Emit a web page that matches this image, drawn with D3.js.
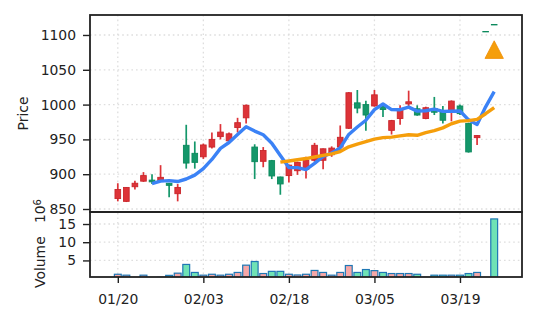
<!DOCTYPE html>
<html>
<head>
<meta charset="utf-8">
<script src="https://cdn.jsdelivr.net/npm/d3@7"></script>
<style>
  body { margin: 0; background: #fff; }
  text { font-family: "DejaVu Sans", sans-serif; fill: #222; }
</style>
</head>
<body>
<div id="chart"></div>
<script>
// trading days (MM/DD)
var dates = ["01/20","01/21","01/22","01/23","01/24","01/27","01/28","01/29","01/30","01/31",
             "02/03","02/04","02/05","02/06","02/07","02/10","02/11","02/12","02/13","02/14",
             "02/18","02/19","02/20","02/21","02/24","02/25","02/26","02/27","02/28","03/04",
             "03/05","03/06","03/07","03/10","03/11","03/12","03/13","03/14","03/17","03/18",
             "03/19","03/20","03/21","03/24","03/25"];

var opens  = [865, 861, 882, 890, 891.5, 890, 887, 872, 941.5, 930,
              925, 939, 954, 948, 967, 981, 939, 918.5, 919.5, 896,
              898, 905, 907, 920, 920, 928, 939, 966, 1002.5, 1000,
              998, 997, 963, 980, 1001, 994, 980, 994.5, 989, 990,
              998, 973, 952.5, 1105, 1115];
var highs  = [887, 881.5, 890.5, 903, 900, 913, 887.5, 886, 971, 947,
              944, 960, 972, 960, 981, 1000, 943, 939, 920.5, 896.5,
              914, 918, 925, 945, 937, 940, 970, 1018, 1021, 1005.5,
              1021, 998, 978, 999, 1020, 999, 997, 1011, 998, 1006,
              1000, 974, 956, 1105, 1115];
var lows   = [861, 860, 878, 889, 886, 889, 867, 861, 908, 908,
              922, 937, 950, 946, 960, 973, 893, 910, 893, 870.5,
              888, 899, 894, 918, 907, 925, 932, 965, 987.5, 962.5,
              997, 982, 957, 971, 994, 984, 979, 985, 973, 976,
              985, 931, 942, 1104.5, 1114.5];
var closes = [878, 881, 887, 898, 889, 895.5, 884, 881, 916, 917,
              942, 950, 960.5, 958, 974, 999, 918, 934, 897.5, 886,
              913, 917, 920, 941.5, 936.5, 937.5, 953, 1017, 995, 985,
              1014, 993, 977, 994, 1004, 985, 995.5, 989, 977.5, 1005,
              987, 932, 955.5, 1104.5, 1114.5];
// volume in millions
var volumes = [1.2, 0.95, 0.3, 0.95, 0.3, 0.35, 0.9, 1.5, 3.9, 1.7,
               0.95, 1.2, 0.95, 1.2, 1.7, 3.7, 4.7, 1.4, 2.0, 2.0,
               1.2, 1.0, 1.2, 2.25, 1.7, 0.95, 1.7, 3.6, 1.7, 2.5,
               2.2, 1.7, 1.4, 1.4, 1.4, 1.2, 0.35, 0.95, 0.95, 0.95,
               0.95, 1.4, 1.7, 0.3, 16.4];
// signal marker (index, price)
var signalIdx = [44];
var signalPrice = [1079];

var mavWindows = [5, 20];
var mavColors = ["#3b82f6", "#f59e0b"];
var priceTicks = [850, 900, 950, 1000, 1050, 1100];
var volTicks = [5, 10, 15];
var xTickIdx = [0, 10, 20, 30, 40];

var upColor = "#dd3338", upEdge = "#c9262b";
var downColor = "#14976a", downEdge = "#0c8a5d";
var volUp = "#f6a7a7", volDown = "#6fe2b5", volEdge = "#1f77b4";

var W = 537, H = 322;
var margin = {left: 90, right: 15, top: 15};
var mainBottom = 212, volBottom = 277;

var data = dates.map(function (d, i) {
    return {i: i, date: d, open: opens[i], high: highs[i], low: lows[i], close: closes[i], vol: volumes[i]};
});

var svg = d3.select("#chart").append("svg")
    .attr("width", W)
    .attr("height", H)
    .style("display", "block");

svg.append("rect").attr("width", W).attr("height", H).attr("fill", "#fff");

var x = d3.scaleLinear()
    .domain([-3.25, 47.25])
    .range([margin.left, W - margin.right]);

var y = d3.scaleLinear()
    .domain([845.7, 1128.7])
    .range([mainBottom, margin.top]);

var yv = d3.scaleLinear()
    .domain([0.45, 18.3])
    .range([volBottom, mainBottom]);

var step = x(1) - x(0);

var defs = svg.append("defs");
defs.append("clipPath").attr("id", "clipMain")
    .append("rect")
    .attr("x", x.range()[0]).attr("y", margin.top)
    .attr("width", x.range()[1] - x.range()[0]).attr("height", mainBottom - margin.top);
defs.append("clipPath").attr("id", "clipVol")
    .append("rect")
    .attr("x", x.range()[0]).attr("y", mainBottom)
    .attr("width", x.range()[1] - x.range()[0]).attr("height", volBottom - mainBottom);

// grids
var grid = svg.append("g")
    .attr("stroke", "#dedede")
    .attr("stroke-width", 1.3)
    .attr("stroke-dasharray", "1.6,3");

grid.selectAll(".hgrid")
    .data(priceTicks)
    .enter().append("line")
    .attr("x1", x.range()[0]).attr("x2", x.range()[1])
    .attr("y1", function (d) { return y(d); })
    .attr("y2", function (d) { return y(d); });

grid.selectAll(".vgrid")
    .data(volTicks)
    .enter().append("line")
    .attr("x1", x.range()[0]).attr("x2", x.range()[1])
    .attr("y1", function (d) { return yv(d); })
    .attr("y2", function (d) { return yv(d); });

grid.selectAll(".xgrid")
    .data(xTickIdx)
    .enter().append("line")
    .attr("x1", function (d) { return x(d); })
    .attr("x2", function (d) { return x(d); })
    .attr("y1", margin.top)
    .attr("y2", volBottom);

// volume bars
svg.append("g")
    .attr("clip-path", "url(#clipVol)")
    .selectAll("rect")
    .data(data)
    .enter().append("rect")
    .attr("x", function (d) { return x(d.i) - step * 0.4; })
    .attr("width", step * 0.8)
    .attr("y", function (d) { return yv(d.vol); })
    .attr("height", function (d) { return yv(0) - yv(d.vol); })
    .attr("fill", function (d) { return d.close >= d.open ? volUp : volDown; })
    .attr("stroke", volEdge)
    .attr("stroke-width", 1.2);

// candles
var candles = svg.append("g")
    .attr("clip-path", "url(#clipMain)")
    .selectAll("g")
    .data(data)
    .enter().append("g");

candles.append("line")
    .attr("x1", function (d) { return x(d.i); })
    .attr("x2", function (d) { return x(d.i); })
    .attr("y1", function (d) { return y(d.high); })
    .attr("y2", function (d) { return y(d.low); })
    .attr("stroke", function (d) { return d.close >= d.open ? upColor : downColor; })
    .attr("stroke-width", 1.7);

candles.append("rect")
    .attr("x", function (d) { return x(d.i) - step * 0.33; })
    .attr("width", step * 0.66)
    .attr("y", function (d) { return y(Math.max(d.open, d.close)); })
    .attr("height", function (d) { return Math.max(0.4, Math.abs(y(d.open) - y(d.close))); })
    .attr("fill", function (d) { return d.close >= d.open ? upColor : downColor; })
    .attr("stroke", function (d) { return d.close >= d.open ? upEdge : downEdge; })
    .attr("stroke-width", 0.9);

// moving averages of the close
mavWindows.forEach(function (w, k) {
    var pts = [];
    for (var i = w - 1; i < closes.length; i++) {
        pts.push([i, d3.mean(closes.slice(i - w + 1, i + 1))]);
    }
    svg.append("path")
        .datum(pts)
        .attr("fill", "none")
        .attr("stroke", mavColors[k])
        .attr("stroke-width", 3.4)
        .attr("stroke-linejoin", "round")
        .attr("d", d3.line()
            .x(function (d) { return x(d[0]); })
            .y(function (d) { return y(d[1]); }));
});

// signal markers
svg.append("g")
    .selectAll("path")
    .data(signalIdx)
    .enter().append("path")
    .attr("transform", function (d, i) { return "translate(" + x(d) + "," + y(signalPrice[i]) + ")"; })
    .attr("d", "M0,-8.8L9.2,8.8L-9.2,8.8Z")
    .attr("fill", "#f59e0b")
    .attr("stroke", "#f08c00")
    .attr("stroke-width", 0.8);

// axes
var yAxis = svg.append("g")
    .attr("transform", "translate(" + margin.left + ",0)")
    .call(d3.axisLeft(y).tickValues(priceTicks).tickFormat(d3.format("d")).tickSize(7).tickPadding(7));

var yvAxis = svg.append("g")
    .attr("transform", "translate(" + margin.left + ",0)")
    .call(d3.axisLeft(yv).tickValues(volTicks).tickFormat(d3.format("d")).tickSize(7).tickPadding(7));

var xAxis = svg.append("g")
    .attr("transform", "translate(0," + volBottom + ")")
    .call(d3.axisBottom(x).tickValues(xTickIdx)
        .tickFormat(function (d) { return dates[d]; })
        .tickSize(6).tickPadding(11));

[yAxis, yvAxis, xAxis].forEach(function (a) {
    a.select(".domain").remove();
    a.selectAll(".tick line").attr("stroke", "#222").attr("stroke-width", 1.4);
    a.selectAll(".tick text")
        .style("font-family", "DejaVu Sans")
        .style("font-size", "13.9px")
        .attr("fill", "#222");
});

// frames
svg.append("rect")
    .attr("x", x.range()[0]).attr("y", margin.top)
    .attr("width", x.range()[1] - x.range()[0])
    .attr("height", mainBottom - margin.top)
    .attr("fill", "none")
    .attr("stroke", "#222")
    .attr("stroke-width", 1.8);

svg.append("rect")
    .attr("x", x.range()[0]).attr("y", mainBottom)
    .attr("width", x.range()[1] - x.range()[0])
    .attr("height", volBottom - mainBottom)
    .attr("fill", "none")
    .attr("stroke", "#222")
    .attr("stroke-width", 1.8);

// axis titles
svg.append("text")
    .attr("transform", "translate(28," + ((margin.top + mainBottom) / 2) + ") rotate(-90)")
    .attr("text-anchor", "middle")
    .style("font-size", "13.9px")
    .text("Price");

var vlab = svg.append("text")
    .attr("transform", "translate(45," + ((mainBottom + volBottom) / 2 - 1) + ") rotate(-90)")
    .attr("text-anchor", "middle")
    .style("font-size", "13.9px");
vlab.append("tspan").text("Volume\u00a0\u00a0\u00a010");
vlab.append("tspan")
    .attr("dy", "-0.45em")
    .style("font-size", "10px")
    .text("6");
</script>
</body>
</html>
